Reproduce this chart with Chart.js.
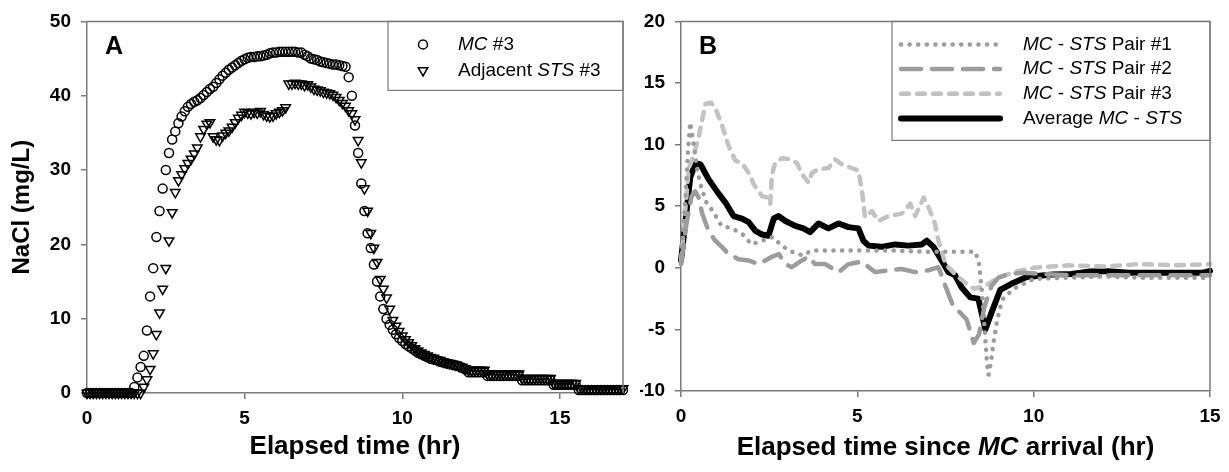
<!DOCTYPE html>
<html>
<head>
<meta charset="utf-8">
<script src="https://cdn.jsdelivr.net/npm/chart.js@4.4.0/dist/chart.umd.min.js"></script>
<style>
  html, body { margin: 0; padding: 0; background: #fff; }
  #wrap { position: relative; width: 1229px; height: 472px; }
  #boxA { position: absolute; left: 0; top: 0; width: 640px; height: 472px; }
  #boxB { position: absolute; left: 640px; top: 0; width: 589px; height: 472px; }
</style>
</head>
<body>
<div id="wrap">
  <div id="boxA"><canvas id="chartA"></canvas></div>
  <div id="boxB"><canvas id="chartB"></canvas></div>
</div>
<script>
// ---- panel A: NaCl concentration, sampled every 0.1 hr ----
const timeA = [
  0, 0.1, 0.2, 0.3, 0.4, 0.5, 0.6, 0.7, 0.8, 0.9,
  1, 1.1, 1.2, 1.3, 1.4, 1.5, 1.6, 1.7, 1.8, 1.9,
  2, 2.1, 2.2, 2.3, 2.4, 2.5, 2.6, 2.7, 2.8, 2.9,
  3, 3.1, 3.2, 3.3, 3.4, 3.5, 3.6, 3.7, 3.8, 3.9,
  4, 4.1, 4.2, 4.3, 4.4, 4.5, 4.6, 4.7, 4.8, 4.9,
  5, 5.1, 5.2, 5.3, 5.4, 5.5, 5.6, 5.7, 5.8, 5.9,
  6, 6.1, 6.2, 6.3, 6.4, 6.5, 6.6, 6.7, 6.8, 6.9,
  7, 7.1, 7.2, 7.3, 7.4, 7.5, 7.6, 7.7, 7.8, 7.9,
  8, 8.1, 8.2, 8.3, 8.4, 8.5, 8.6, 8.7, 8.8, 8.9,
  9, 9.1, 9.2, 9.3, 9.4, 9.5, 9.6, 9.7, 9.8, 9.9,
  10, 10.1, 10.2, 10.3, 10.4, 10.5, 10.6, 10.7, 10.8, 10.9,
  11, 11.1, 11.2, 11.3, 11.4, 11.5, 11.6, 11.7, 11.8, 11.9,
  12, 12.1, 12.2, 12.3, 12.4, 12.5, 12.6, 12.7, 12.8, 12.9,
  13, 13.1, 13.2, 13.3, 13.4, 13.5, 13.6, 13.7, 13.8, 13.9,
  14, 14.1, 14.2, 14.3, 14.4, 14.5, 14.6, 14.7, 14.8, 14.9,
  15, 15.1, 15.2, 15.3, 15.4, 15.5, 15.6, 15.7, 15.8, 15.9,
  16, 16.1, 16.2, 16.3, 16.4, 16.5, 16.6, 16.7, 16.8, 16.9,
  17
];
const mc3 = [
  0, 0, 0, 0, 0, 0, 0, 0, 0, 0,
  0, 0, 0, 0, 0, 0.8, 2.1, 3.5, 5.0, 8.4,
  13.0, 16.8, 21.0, 24.5, 27.5, 30.0, 32.3, 34.1, 35.2, 36.3,
  37.2, 37.9, 38.5, 38.9, 39.2, 39.4, 39.7, 40.1, 40.5, 40.9,
  41.2, 41.7, 42.2, 42.7, 43.1, 43.5, 43.8, 44.1, 44.4, 44.7,
  44.9, 45.1, 45.2, 45.2, 45.3, 45.3, 45.4, 45.5, 45.7, 45.8,
  45.8, 45.9, 45.9, 45.9, 45.9, 45.9, 45.9, 45.8, 45.8, 45.5,
  45.3, 45.0, 44.9, 44.8, 44.6, 44.5, 44.4, 44.3, 44.2, 44.2,
  44.1, 44.0, 43.9, 42.5, 40.0, 36.0, 32.3, 28.2, 24.5, 21.5,
  19.5, 17.3, 15.0, 13.0, 11.3, 10.0, 9.2, 8.5, 7.9, 7.4,
  7.0, 6.6, 6.3, 6.0, 5.7, 5.4, 5.2, 5.0, 4.8, 4.6,
  4.5, 4.4, 4.2, 4.1, 4.0, 3.9, 3.8, 3.7, 3.6, 3.4,
  3.2, 2.8, 2.8, 2.8, 2.8, 2.8, 2.8, 2.3, 2.3, 2.3,
  2.3, 2.3, 2.3, 2.3, 2.3, 2.3, 2.3, 2.3, 1.7, 1.7,
  1.7, 1.7, 1.7, 1.7, 1.7, 1.7, 1.7, 1.7, 1.1, 1.1,
  1.1, 1.1, 1.1, 1.1, 1.1, 1.1, 0.4, 0.4, 0.4, 0.4,
  0.4, 0.4, 0.4, 0.4, 0.4, 0.4, 0.4, 0.4, 0.4, 0.4,
  0.4
];
const sts3 = [
  0, 0, 0, 0, 0, 0, 0, 0, 0, 0,
  0, 0, 0, 0, 0, 0, 0, 0, 0.8, 1.8,
  3.2, 5.3, 7.9, 10.8, 14.0, 16.8, 20.5, 24.3, 27.0, 28.6,
  29.4, 30.2, 30.9, 31.5, 32.2, 33.0, 34.5, 35.5, 36.2, 36.4,
  34.5, 34.1, 34.0, 34.6, 35.0, 35.3, 35.8, 36.4, 37.0, 37.4,
  37.8, 37.7, 37.6, 37.8, 37.7, 37.9, 37.5, 37.3, 37.2, 37.3,
  37.6, 37.8, 38.0, 38.4, 41.6, 41.6, 41.7, 41.6, 41.6, 41.4,
  41.5, 41.2, 40.9, 40.8, 40.7, 40.5, 40.4, 40.3, 40.1, 39.8,
  39.4, 39.0, 38.6, 38.0, 37.6, 36.8, 34.0, 31.0, 27.5, 24.5,
  21.5, 19.5, 17.6, 15.3, 14.0, 12.8, 11.3, 9.8, 9.0, 8.3,
  7.7, 7.2, 6.8, 6.4, 6.0, 5.7, 5.4, 5.2, 5.0, 4.8,
  4.7, 4.5, 4.4, 4.2, 4.1, 4.0, 3.9, 3.8, 3.6, 3.5,
  3.3, 3.1, 3.1, 3.1, 3.1, 3.1, 3.1, 2.6, 2.6, 2.6,
  2.6, 2.6, 2.6, 2.6, 2.6, 2.6, 2.6, 2.6, 2.0, 2.0,
  2.0, 2.0, 2.0, 2.0, 2.0, 2.0, 2.0, 2.0, 1.3, 1.3,
  1.3, 1.3, 1.3, 1.3, 1.3, 1.3, 0.6, 0.6, 0.6, 0.6,
  0.6, 0.6, 0.6, 0.6, 0.6, 0.6, 0.6, 0.6, 0.6, 0.6,
  0.6
];

// ---- panel B: MC - STS differences ----
const tPair1 = [0, 0.1, 0.2, 0.26, 0.36, 0.45, 0.55, 0.7, 0.9, 1.15, 1.45, 1.75, 2.0, 2.3, 2.6, 2.85, 3.15, 3.45, 3.7, 4.1,
  5.0, 6.0, 7.0, 7.9, 8.35, 8.45, 8.53, 8.6, 8.67, 8.72, 8.78, 8.86, 8.95, 9.05, 9.15, 9.5, 10.0, 11, 12, 13, 14, 15];
const pair1 = [0.3, 4.5, 9.5, 11.8, 10.0, 8.1, 6.8, 5.4, 4.6, 3.4, 3.2, 2.7, 1.9, 2.2, 2.5, 1.8, 1.3, 1.0, 1.4, 1.4,
  1.4, 1.4, 1.3, 1.3, 1.3, 0.3, -1.8, -4.5, -7.5, -8.7, -7.8, -6.1, -4.5, -3.2, -2.4, -1.6, -0.9, -0.8, -0.7, -0.8, -0.8, -0.8];

const tPair2 = [0, 0.15, 0.3, 0.4, 0.5, 0.6, 0.78, 0.97, 1.16, 1.35, 1.63, 1.92, 2.2, 2.39, 2.58, 2.78, 2.96, 3.14, 3.43, 3.62,
  3.8, 4.09, 4.47, 4.75, 5.13, 5.5, 5.88, 6.26, 6.64, 7.02, 7.3, 7.5, 7.7, 7.9, 8.1, 8.3, 8.45, 8.6, 8.8, 9.0,
  9.3, 9.7, 10.2, 11, 12, 13, 14, 15];
const pair2 = [0.3, 3.5, 5.8, 6.2, 5.7, 4.4, 3.0, 2.2, 1.7, 1.1, 0.7, 0.6, 0.3, 0.6, 0.9, 1.1, 0.3, 0.05, 0.6, 0.9,
  0.3, 0.3, -0.35, 0.3, 0.5, -0.35, -0.2, -0.1, -0.35, -0.2, 0.05, -1.5, -3.0, -3.6, -4.2, -6.1, -5.4, -3.2, -1.5, -0.8,
  -0.5, -0.4, -0.5, -0.6, -0.6, -0.6, -0.6, -0.6];

const tPair3 = [0, 0.1, 0.22, 0.35, 0.5, 0.69, 0.85, 0.97, 1.16, 1.35, 1.54, 1.73, 1.92, 2.06, 2.3, 2.48, 2.53, 2.58, 2.67, 2.86,
  3.1, 3.29, 3.43, 3.62, 3.71, 3.9, 4.18, 4.37, 4.56, 4.84, 5.03, 5.13, 5.22, 5.41, 5.6, 5.88, 6.26, 6.5, 6.64, 6.88,
  7.02, 7.2, 7.3, 7.5, 7.8, 8.1, 8.3, 8.6, 9.0, 9.5, 10, 11, 12, 13, 14, 15];
const pair3 = [0.5, 4.0, 8.1, 9.0, 10.6, 13.3, 13.4, 13.0, 11.6, 9.9, 8.7, 8.5, 7.7, 6.8, 5.8, 5.7, 5.2, 7.6, 8.5, 8.9,
  8.8, 8.5, 7.6, 6.9, 7.7, 8.0, 8.1, 8.8, 8.4, 8.1, 7.9, 6.3, 4.1, 4.6, 3.8, 4.2, 4.4, 5.2, 4.2, 5.7,
  4.9, 3.6, 2.2, 0.3, -0.6, -1.3, -1.7, -1.5, -0.8, -0.3, 0.0, 0.2, 0.1, 0.3, 0.2, 0.3];

const tAvg = [0, 0.12, 0.26, 0.41, 0.55, 0.78, 1.07, 1.26, 1.49, 1.73, 1.92, 2.11, 2.3, 2.48, 2.63, 2.77, 2.96, 3.24, 3.47, 3.66,
  3.9, 4.18, 4.47, 4.75, 5.03, 5.17, 5.32, 5.69, 6.07, 6.45, 6.83, 6.97, 7.16, 7.39, 7.58, 7.77, 7.96, 8.2, 8.43, 8.63,
  8.81, 9.05, 9.37, 9.8, 10.54, 11.07, 11.6, 12.1, 12.7, 13.7, 14.8, 15];
const avgDiff = [0.6, 3.6, 7.3, 8.5, 8.4, 7.2, 6.0, 5.3, 4.2, 4.0, 3.7, 3.0, 2.7, 2.6, 4.0, 4.2, 3.8, 3.4, 3.2, 2.9,
  3.6, 3.2, 3.6, 3.3, 3.2, 2.2, 1.8, 1.7, 1.9, 1.8, 1.9, 2.2, 1.7, 0.6, -0.35, -0.6, -1.6, -2.4, -2.5, -5.0,
  -3.6, -1.8, -1.3, -0.75, -0.55, -0.5, -0.3, -0.27, -0.4, -0.4, -0.4, -0.25];

// legend / title text, [text, italic]
const legendA = [
  [["MC", true], [" #3", false]],
  [["Adjacent ", false], ["STS", true], [" #3", false]]
];
const legendB = [
  [["MC", true], [" - ", false], ["STS", true], [" Pair #1", false]],
  [["MC", true], [" - ", false], ["STS", true], [" Pair #2", false]],
  [["MC", true], [" - ", false], ["STS", true], [" Pair #3", false]],
  [["Average ", false], ["MC", true], [" - ", false], ["STS", true]]
];
const titleB = [["Elapsed time since ", false], ["MC", true], [" arrival (hr)", false]];

const FONT = "'Liberation Sans', Arial, Helvetica, sans-serif";
const AXIS_GRAY = "#7a7a7a";

function pairs(xs, ys) {
  return xs.map((x, i) => ({ x: x, y: ys[i] }));
}

function richWidth(ctx, parts, size, weight) {
  let w = 0;
  parts.forEach(([txt, it]) => {
    ctx.font = (it ? "italic " : "") + weight + " " + size + "px " + FONT;
    w += ctx.measureText(txt).width;
  });
  return w;
}
function drawRich(ctx, parts, x, y, size, weight) {
  parts.forEach(([txt, it]) => {
    ctx.font = (it ? "italic " : "") + weight + " " + size + "px " + FONT;
    ctx.fillText(txt, x, y);
    x += ctx.measureText(txt).width;
  });
}

function marker(ctx, kind, x, y) {
  ctx.beginPath();
  if (kind === "circle") {
    ctx.arc(x, y, 4.5, 0, Math.PI * 2);
  } else {
    const r = 5.5;
    ctx.moveTo(x, y + r);
    ctx.lineTo(x - r * 0.866, y - r / 2);
    ctx.lineTo(x + r * 0.866, y - r / 2);
    ctx.closePath();
  }
  ctx.stroke();
}

// frame on top/right, panel letter, legend box, custom x title
const decorPlugin = {
  id: "decor",
  afterDraw(chart, args, opts) {
    const ctx = chart.ctx;
    const a = chart.chartArea;
    ctx.save();
    ctx.strokeStyle = AXIS_GRAY;
    ctx.lineWidth = 1.5;
    ctx.beginPath();
    ctx.moveTo(a.left, a.top);
    ctx.lineTo(a.right, a.top);
    ctx.lineTo(a.right, a.bottom);
    ctx.stroke();

    ctx.fillStyle = "#000";
    ctx.textBaseline = "alphabetic";
    ctx.font = "bold 25px " + FONT;
    ctx.fillText(opts.letter, a.left + 18, a.top + 33);

    // legend box
    const lg = opts.legend;
    const right = a.right;
    const left = right - lg.width;
    ctx.strokeStyle = AXIS_GRAY;
    ctx.lineWidth = 1.2;
    ctx.strokeRect(left, a.top, lg.width, lg.height);
    ctx.textBaseline = "middle";
    lg.rows.forEach((row, i) => {
      const y = a.top + lg.first + i * lg.step;
      const ds = chart.data.datasets[i];
      if (lg.kind === "marker") {
        ctx.strokeStyle = "#000";
        ctx.lineWidth = 1.5;
        marker(ctx, ds.pointStyle === "circle" ? "circle" : "triangle", left + 35, y);
      } else {
        ctx.save();
        ctx.strokeStyle = ds.borderColor;
        ctx.lineWidth = ds.borderWidth;
        ctx.lineCap = ds.borderCapStyle || "butt";
        ctx.setLineDash(ds.borderDash || []);
        ctx.beginPath();
        ctx.moveTo(left + 9, y);
        ctx.lineTo(left + 108, y);
        ctx.stroke();
        ctx.restore();
      }
      ctx.fillStyle = "#000";
      drawRich(ctx, row, left + lg.textX, y, 19, "normal");
    });

    if (opts.xTitle) {
      ctx.textBaseline = "middle";
      const w = richWidth(ctx, opts.xTitle, 26, "bold");
      drawRich(ctx, opts.xTitle, (a.left + a.right) / 2 - w / 2, 448, 26, "bold");
    }
    ctx.restore();
  }
};

function axisX(min, max, height, title) {
  return {
    type: "linear",
    min: min,
    max: max,
    ticks: {
      stepSize: 5,
      includeBounds: false,
      maxRotation: 0,
      padding: 8,
      color: "#000",
      font: { family: FONT, size: 19, weight: "bold" }
    },
    grid: { drawOnChartArea: false, drawTicks: true, tickLength: 6, color: AXIS_GRAY, lineWidth: 1.5 },
    border: { display: true, color: AXIS_GRAY, width: 1.5 },
    title: title ? {
      display: true,
      text: title,
      color: "#000",
      font: { family: FONT, size: 26, weight: "bold" },
      padding: { top: 0, bottom: 10 }
    } : { display: false },
    afterFit(scale) { scale.height = height; }
  };
}
function axisY(min, max, step, width, title) {
  return {
    min: min,
    max: max,
    ticks: {
      stepSize: step,
      padding: 10,
      color: "#000",
      font: { family: FONT, size: 19, weight: "bold" }
    },
    grid: { drawOnChartArea: false, drawTicks: true, tickLength: 6, color: AXIS_GRAY, lineWidth: 1.5 },
    border: { display: true, color: AXIS_GRAY, width: 1.5 },
    title: title ? {
      display: true,
      text: title,
      color: "#000",
      font: { family: FONT, size: 24, weight: "bold" },
      padding: { top: 8, bottom: 0 }
    } : { display: false },
    afterFit(scale) { scale.width = width; }
  };
}

const common = {
  responsive: true,
  maintainAspectRatio: false,
  animation: false,
  devicePixelRatio: 1,
  plugins: { legend: { display: false }, tooltip: { enabled: false } }
};

new Chart(document.getElementById("chartA"), {
  type: "scatter",
  data: {
    datasets: [
      {
        label: "MC #3",
        data: pairs(timeA, mc3),
        pointStyle: "circle",
        pointRadius: 4.5,
        borderColor: "#000",
        backgroundColor: "rgba(0,0,0,0)",
        borderWidth: 1.5,
        clip: false
      },
      {
        label: "Adjacent STS #3",
        data: pairs(timeA, sts3),
        pointStyle: "triangle",
        rotation: 180,
        pointRadius: 5.5,
        borderColor: "#000",
        backgroundColor: "rgba(0,0,0,0)",
        borderWidth: 1.5,
        clip: false
      }
    ]
  },
  options: Object.assign({}, common, {
    layout: { padding: { top: 19, right: 17, left: 0, bottom: 0 } },
    scales: {
      x: axisX(0, 17, 79, "Elapsed time (hr)"),
      y: axisY(0, 50, 10, 87, "NaCl (mg/L)")
    },
    plugins: Object.assign({}, common.plugins, {
      decor: {
        letter: "A",
        legend: { kind: "marker", width: 235, height: 69, first: 23, step: 26, textX: 70, rows: legendA }
      }
    })
  }),
  plugins: [decorPlugin]
});

function lineSet(label, xs, ys, color, width, dash) {
  return {
    label: label,
    data: pairs(xs, ys),
    borderColor: color,
    borderWidth: width,
    borderDash: dash,
    borderCapStyle: "round",
    borderJoinStyle: "round",
    pointRadius: 0,
    tension: 0,
    fill: false,
    clip: false
  };
}

new Chart(document.getElementById("chartB"), {
  type: "line",
  data: {
    datasets: [
      lineSet("MC - STS Pair #1", tPair1, pair1, "#9c9c9c", 4.5, [0.1, 8.5]),
      lineSet("MC - STS Pair #2", tPair2, pair2, "#9c9c9c", 4.5, [20, 11]),
      lineSet("MC - STS Pair #3", tPair3, pair3, "#c2c2c2", 4.5, [8, 8]),
      lineSet("Average MC - STS", tAvg, avgDiff, "#000", 6, [])
    ]
  },
  options: Object.assign({}, common, {
    layout: { padding: { top: 20, right: 19, left: 0, bottom: 0 } },
    scales: {
      x: axisX(0, 15, 81, null),
      y: axisY(-10, 20, 5, 41, null)
    },
    plugins: Object.assign({}, common.plugins, {
      decor: {
        letter: "B",
        legend: { kind: "line", width: 318, height: 119, first: 23, step: 24.7, textX: 131, rows: legendB },
        xTitle: titleB
      }
    })
  }),
  plugins: [decorPlugin]
});
</script>
</body>
</html>
